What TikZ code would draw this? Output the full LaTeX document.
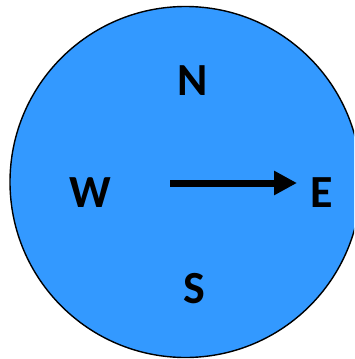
\documentclass[tikz,border=0pt]{standalone}
\usepackage{fontspec}
\setmainfont{Carlito}
\usetikzlibrary{arrows.meta}
\definecolor{dial}{HTML}{3399FF}
\tikzset{
  letter/.style={font=\fontsize{46}{46}\selectfont\bfseries, inner sep=0pt, anchor=center},
  needle/.style={line width=7pt, -{Triangle[length=23pt,width=23pt]}}
}
\begin{document}
\begin{tikzpicture}[x=1pt,y=-1pt]
\useasboundingbox (0,0) rectangle (354,359);
\clip (0,0) rectangle (354,359);
\draw[fill=dial, line width=1.4pt] (185.5,182) circle[radius=175.5];
\node[letter] (N) at (193,81) {N};
\node[letter] (W) at (90,193) {W};
\node[letter] (E) at (322,193) {E};
\node[letter] (S) at (194,289) {S};
\coordinate (tail) at (170,183);
\coordinate (tip) at (297,183);
\draw[needle] (tail) -- (tip);
\end{tikzpicture}
\end{document}
